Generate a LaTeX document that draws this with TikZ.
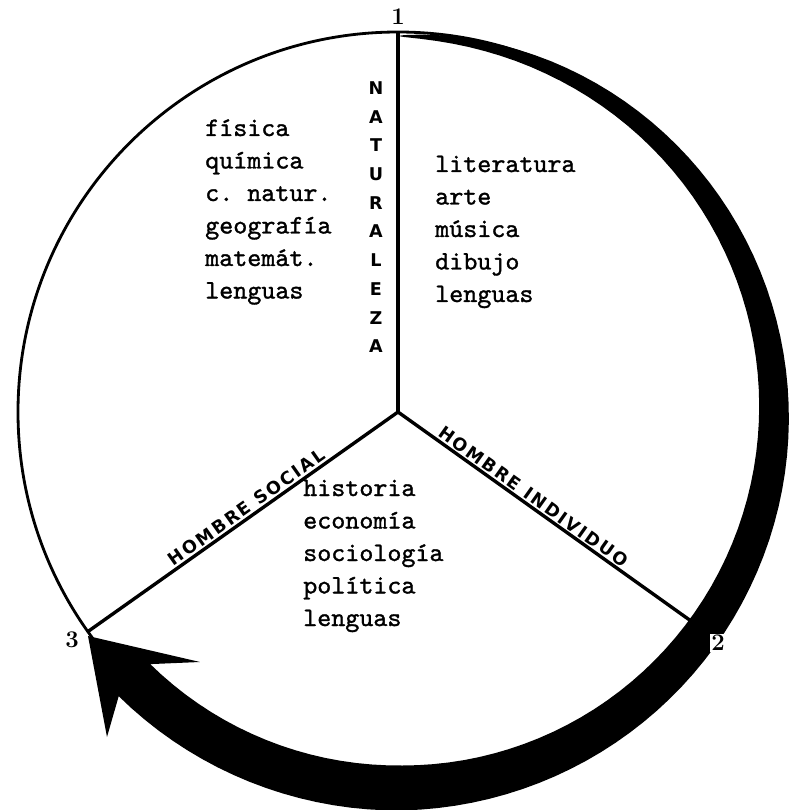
\documentclass[tikz,border=0pt]{standalone}
\usepackage{fontspec}
\setmonofont{lmmono10-regular.otf}[FakeBold=1.2]
\newfontfamily\capsfont{DejaVu Sans Bold}[LetterSpace=12]
\usepackage{tikz}

\begin{document}
\begin{tikzpicture}[x=0.025cm,y=0.025cm,
  spoke/.style={line width=2.4pt},
  subj/.style={font=\ttfamily\fontsize{19}{19}\selectfont,anchor=base west,inner sep=0pt},
  axis/.style={font=\capsfont\fontsize{12.5}{12.5}\selectfont,inner sep=2pt},
  num/.style={font=\bfseries\fontsize{17}{17}\selectfont,inner sep=1pt}]
\useasboundingbox (-398,-398) rectangle (392,412);
\coordinate (O) at (0,0);
\coordinate (p1) at (90:380);
\coordinate (p2) at (-35.5:380);
\coordinate (p3) at (215.3:380);
\draw[line width=2pt] (O) circle[radius=380];
\draw[spoke] (O) -- (p1);
\draw[spoke] (O) -- (p2);
\draw[spoke] (O) -- (p3);
% broad arrow from 1 round by 2 to 3
\coordinate (barbout) at (-291,-325);
\coordinate (tip) at (-310,-224);
\coordinate (barbin) at (-198,-250);
\fill[black] (90:376)
  -- plot[domain=1:224.5,samples=90] ({90-\x}:{376+22.5*min(1,\x/180)^0.6})
  -- (barbout) -- (tip) -- (barbin)
  -- plot[domain=224.5:1,samples=90] ({90-\x}:{376-22.5*min(1,\x/180)^0.6})
  -- cycle;
\node[num] (n1) at (0,395) {1};
\node[num,fill=white] (n2) at (320,-231) {2};
\node[num] (n3) at (-326,-228) {3};
\foreach \c [count=\i] in {N,A,T,U,R,A,L,E,Z,A}
  \node[axis] (v\i) at (-22,{352.7-28.7*\i}) {\c};
\path (p3) -- (O) node[axis,pos=0.53,above,sloped] (social) {HOMBRE SOCIAL};
\path (O) -- (p2) node[axis,pos=0.42,above,sloped] (indiv) {HOMBRE INDIVIDUO};
\foreach \w [count=\i] in {física,química,c. natur.,geografía,matemát.,lenguas}
  \node[subj] (nat\i) at (-193,{308.5-32.5*\i}) {\w};
\foreach \w [count=\i] in {literatura,arte,música,dibujo,lenguas}
  \node[subj] (ind\i) at (37,{272.5-32.5*\i}) {\w};
\foreach \w [count=\i] in {historia,economía,sociología,política,lenguas}
  \node[subj] (soc\i) at (-95,{-51.5-32.5*\i}) {\w};
\end{tikzpicture}
\end{document}
